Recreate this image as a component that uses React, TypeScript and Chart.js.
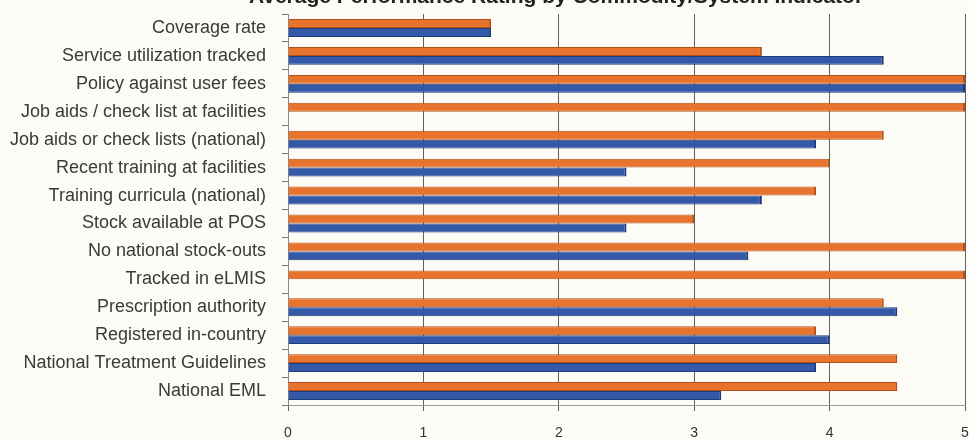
import React, { useEffect, useRef } from "react";
import { Chart, registerables } from "chart.js";

Chart.register(...registerables);

const titleText = "Average Performance Rating by Commodity/System Indicator";

const categories = [
  "Coverage rate",
  "Service utilization tracked",
  "Policy against user fees",
  "Job aids / check list at facilities",
  "Job aids or check lists (national)",
  "Recent training at facilities",
  "Training curricula (national)",
  "Stock available at POS",
  "No national stock-outs",
  "Tracked in eLMIS",
  "Prescription authority",
  "Registered in-country",
  "National Treatment Guidelines",
  "National EML",
];

const seriesOrange = [1.5, 3.5, 5, 5, 4.4, 4.0, 3.9, 3.0, 5, 5, 4.4, 3.9, 4.5, 4.5];
const seriesBlue = [1.5, 4.4, 5, 0, 3.9, 2.5, 3.5, 2.5, 3.4, 0, 4.5, 4.0, 3.9, 3.2];

const xTicks = [0, 1, 2, 3, 4, 5];

export default function App() {
  const ref = useRef<HTMLCanvasElement | null>(null);

  useEffect(() => {
    if (!ref.current) return;
    const chart = new Chart(ref.current, {
      type: "bar",
      data: {
        labels: categories,
        datasets: [
          {
            label: "Series A",
            data: seriesOrange,
            backgroundColor: "#E8732C",
            borderColor: "#B6501A",
            borderWidth: { top: 1, bottom: 1, right: 2, left: 0 },
            categoryPercentage: 0.64,
            barPercentage: 1.0,
          },
          {
            label: "Series B",
            data: seriesBlue,
            backgroundColor: "#3359A8",
            borderColor: "#1F3A78",
            borderWidth: { top: 1, bottom: 1, right: 2, left: 0 },
            categoryPercentage: 0.64,
            barPercentage: 1.0,
          },
        ],
      },
      options: {
        indexAxis: "y",
        animation: false,
        responsive: false,
        maintainAspectRatio: false,
        layout: { padding: { left: 0, right: 0, top: 14, bottom: 0 } },
        plugins: {
          legend: { display: false },
          tooltip: { enabled: false },
          title: { display: false },
        },
        scales: {
          x: {
            min: 0,
            max: 5,
            afterBuildTicks: (scale: any) => {
              scale.ticks = xTicks.map((v) => ({ value: v }));
            },
            afterFit: (scale: any) => {
              scale.height = 34;
              scale.paddingLeft = 0;
              scale.paddingRight = 4;
            },
            grid: {
              color: "#5f5f5f",
              lineWidth: 1,
              tickLength: 6,
              drawTicks: true,
            },
            border: { display: true, color: "#9a9a9a" },
            ticks: {
              color: "#333",
              font: { family: "Liberation Sans", size: 14 },
              padding: 14,
            },
          },
          y: {
            afterFit: (scale: any) => {
              scale.width = 288;
              scale.paddingTop = 0;
              scale.paddingBottom = 0;
            },
            grid: {
              drawOnChartArea: false,
              tickLength: 6,
              color: "#777",
              offset: true,
            },
            border: { display: true, color: "#8a8a8a" },
            ticks: {
              color: "#3a3a3a",
              font: { family: "Liberation Sans", size: 18 },
              padding: 16,
              autoSkip: false,
            },
          },
        },
      },
    });
    return () => chart.destroy();
  }, []);

  return (
    <div
      style={{
        position: "absolute",
        left: 0,
        top: 0,
        width: 969,
        height: 439,
        background: "#FCFBF5",
        overflow: "hidden",
      }}
    >
      <div
        style={{
          position: "absolute",
          left: 156,
          top: -16,
          width: 800,
          textAlign: "center",
          fontFamily: "Liberation Sans",
          fontWeight: "bold",
          fontSize: 21,
          color: "#222",
          whiteSpace: "nowrap",
        }}
      >
        {titleText}
      </div>
      <canvas ref={ref} width={969} height={439} style={{ display: "block" }} />
    </div>
  );
}
